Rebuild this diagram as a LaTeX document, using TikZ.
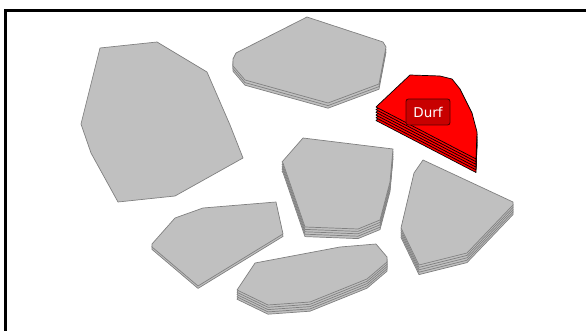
\documentclass[tikz,border=0pt]{standalone}
\usepackage{fontspec}
\setsansfont{DejaVu Sans}
\definecolor{stoneGray}{HTML}{C0C0C0}
\definecolor{stoneEdge}{HTML}{808080}
\definecolor{durfRed}{HTML}{C80000}

\begin{document}
\begin{tikzpicture}[x=1pt, y=-1pt,
    stone/.style={fill=stoneGray, draw=stoneEdge, line width=0.7pt, line join=round},
    hot/.style={fill=red, draw=black, line width=0.7pt, line join=round},
    tag/.style={fill=durfRed, draw=red!35!black, line width=0.9pt, rounded corners=2.5pt, text=white,
        font=\sffamily\fontsize{13.5}{15}\selectfont, minimum width=44pt, minimum height=26pt, inner sep=1pt}]
    \useasboundingbox (0,0) rectangle (586,331);
    \draw[line width=2.7pt] (5.3,331) -- (5.3,10.3) -- (586,10.3);
    % big flat one, left
    \draw[stone] (100,48) -- (157,42) -- (207,72) -- (230,125) -- (243,158) -- (175,196)
        -- (118,202) -- (91,153) -- (81,124) -- cycle;
    % top
    \foreach \k in {2,1,0}
        \draw[stone, yshift=-2.6*\k] (236,53) -- (307,17) -- (383,42) -- (386,47) -- (379,84)
            -- (328,103) -- (245,80) -- (233,66) -- (233,59) -- cycle;
    % red one
    \foreach \k in {5,4,...,0}
        \draw[hot, yshift=-2.7*\k] (410,75) -- (440,76) -- (452,79) -- (460,89) -- (472,113)
            -- (477,132) -- (476,159) -- (376,107) -- cycle;
    \node[tag] (durf) at (428,112) {Durf};
    % centre
    \foreach \k in {4,3,...,0}
        \draw[stone, yshift=-2.4*\k] (303,138) -- (393,149) -- (390,182) -- (380,220) -- (358,229)
            -- (305,227) -- (283,163) -- (282,162) -- cycle;
    % lower left
    \foreach \k in {1,0}
        \draw[stone, yshift=-2.4*\k] (175,218) -- (203,208) -- (276,202) -- (283,234) -- (198,286)
            -- (152,247) -- (152,244) -- cycle;
    % bottom
    \foreach \k in {4,3,...,0}
        \draw[stone, yshift=-2.3*\k] (237,290) -- (255,263) -- (340,247) -- (376,244) -- (387,257)
            -- (387,262) -- (367,279) -- (310,302) -- (268,305) -- cycle;
    % right
    \foreach \k in {4,3,...,0}
        \draw[stone, yshift=-2.4*\k] (423,160) -- (513,202) -- (513,205) -- (467,253) -- (419,265)
            -- (402,230) -- (401,228) -- (414,173) -- cycle;
\end{tikzpicture}
\end{document}
